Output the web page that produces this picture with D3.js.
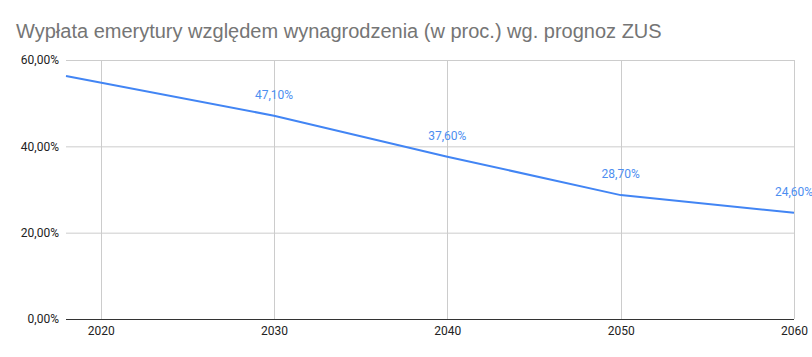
<!DOCTYPE html>
<html><head><meta charset="utf-8">
<script src="https://cdn.jsdelivr.net/npm/d3@7"></script>
<style>body{margin:0;background:#fff}svg{display:block}</style>
</head><body>
<script>
const title = "Wypłata emerytury względem wynagrodzenia (w proc.) wg. prognoz ZUS";
const years = [2018, 2030, 2040, 2050, 2060];
const values = [56.3, 47.1, 37.6, 28.7, 24.6];
const labeled = [false, true, true, true, true];
const yTicks = [0, 20, 40, 60];
const xTicks = [2020, 2030, 2040, 2050, 2060];

const W = 812, H = 357;
const m = {left: 66, right: 18, top: 60, bottom: 38};
const svg = d3.select("body").append("svg").attr("width", W).attr("height", H);
const x = d3.scaleLinear().domain([2018, 2060]).range([m.left, W - m.right]);
const y = d3.scaleLinear().domain([0, 60]).range([H - m.bottom, m.top]);
const fmt = v => v.toFixed(2).replace(".", ",") + "%";

svg.append("text").attr("x", 16).attr("y", 38).text(title)
  .attr("font-family", "Liberation Sans, Arial, sans-serif").attr("font-size", 20).attr("fill", "#757575");

const g = svg.append("g");
g.selectAll(".hg").data(yTicks.filter(d => d > 0)).join("line")
  .attr("x1", m.left).attr("x2", W - m.right).attr("y1", d => y(d) + 0.5).attr("y2", d => y(d) + 0.5)
  .attr("stroke", "#cccccc");
g.selectAll(".vg").data(xTicks).join("line")
  .attr("x1", d => Math.round(x(d)) + 0.5).attr("x2", d => Math.round(x(d)) + 0.5)
  .attr("y1", m.top).attr("y2", y(0)).attr("stroke", "#cccccc");

const yAxis = d3.axisLeft(y).tickValues(yTicks).tickSize(0).tickPadding(7).tickFormat(fmt);
const ya = svg.append("g").attr("transform", `translate(${m.left},0)`).call(yAxis);
ya.select(".domain").remove();
ya.selectAll("text").attr("font-family", "Roboto, sans-serif").attr("font-size", 12).attr("fill", "#222");

const xAxis = d3.axisBottom(x).tickValues(xTicks).tickSize(0).tickPadding(7).tickFormat(d3.format("d"));
const xa = svg.append("g").attr("transform", `translate(0,${y(0)})`).call(xAxis);
xa.select(".domain").remove();
xa.selectAll("text").attr("font-family", "Roboto, sans-serif").attr("font-size", 12).attr("fill", "#222");
svg.append("line").attr("x1", m.left).attr("x2", W - m.right).attr("y1", y(0) + 0.5).attr("y2", y(0) + 0.5)
  .attr("stroke", "#333");

const data = years.map((yr, i) => ({yr, v: values[i], l: labeled[i]}));
svg.append("path").datum(data)
  .attr("d", d3.line().x(d => x(d.yr)).y(d => y(d.v)))
  .attr("fill", "none").attr("stroke", "#4285f4").attr("stroke-width", 2);

svg.selectAll(".dl").data(data.filter(d => d.l)).join("text")
  .attr("x", d => x(d.yr)).attr("y", d => y(d.v) - 17).attr("text-anchor", "middle")
  .attr("font-family", "Roboto, sans-serif").attr("font-size", 12).attr("fill", "#4d8ef0")
  .text(d => fmt(d.v));
</script>
</body></html>
